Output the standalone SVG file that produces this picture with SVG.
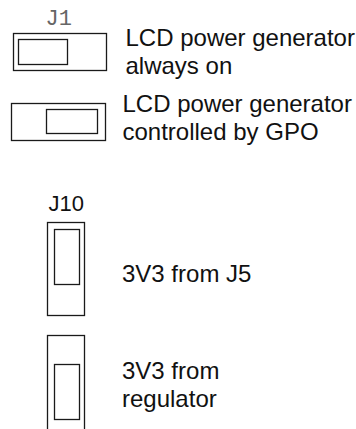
<svg xmlns="http://www.w3.org/2000/svg" width="356" height="429" viewBox="0 0 356 429">
<style>
.b{fill:none;stroke:#1a1a1a;stroke-width:1.3}
.t{font-family:"Liberation Sans",Arial,sans-serif;font-size:24px;fill:#111}
.m{font-family:"Liberation Mono","Courier New",monospace;font-size:22px;fill:#666}
</style>
<rect width="356" height="429" fill="#fff"/>
<g id="j1-label"><text class="m" x="45.5" y="25">J1</text></g>
<g id="j1-on">
<rect class="b" x="13.5" y="33.5" width="93" height="37"/>
<rect class="b" x="18.5" y="39.5" width="49" height="25"/>
<text class="t" x="125.5" y="45.5">LCD power generator</text>
<text class="t" x="125.5" y="73.5">always on</text>
</g>
<g id="j1-gpo">
<rect class="b" x="11.5" y="103.5" width="94" height="37"/>
<rect class="b" x="46.5" y="109.5" width="51" height="24"/>
<text class="t" x="122.5" y="111.5">LCD power generator</text>
<text class="t" x="122.5" y="139.5">controlled by GPO</text>
</g>
<g id="j10-label"><text class="t" x="48.5" y="210.5" style="font-size:22px">J10</text></g>
<g id="j10-j5">
<rect class="b" x="47.5" y="222.5" width="37" height="93"/>
<rect class="b" x="54.5" y="229.5" width="25" height="55"/>
<text class="t" x="122" y="281.5">3V3 from J5</text>
</g>
<g id="j10-reg">
<rect class="b" x="47.5" y="335.5" width="37" height="100"/>
<rect class="b" x="54.5" y="364.5" width="25" height="55"/>
<text class="t" x="122" y="379">3V3 from</text>
<text class="t" x="122" y="406.5">regulator</text>
</g>
<g id="connectors"/>
</svg>
